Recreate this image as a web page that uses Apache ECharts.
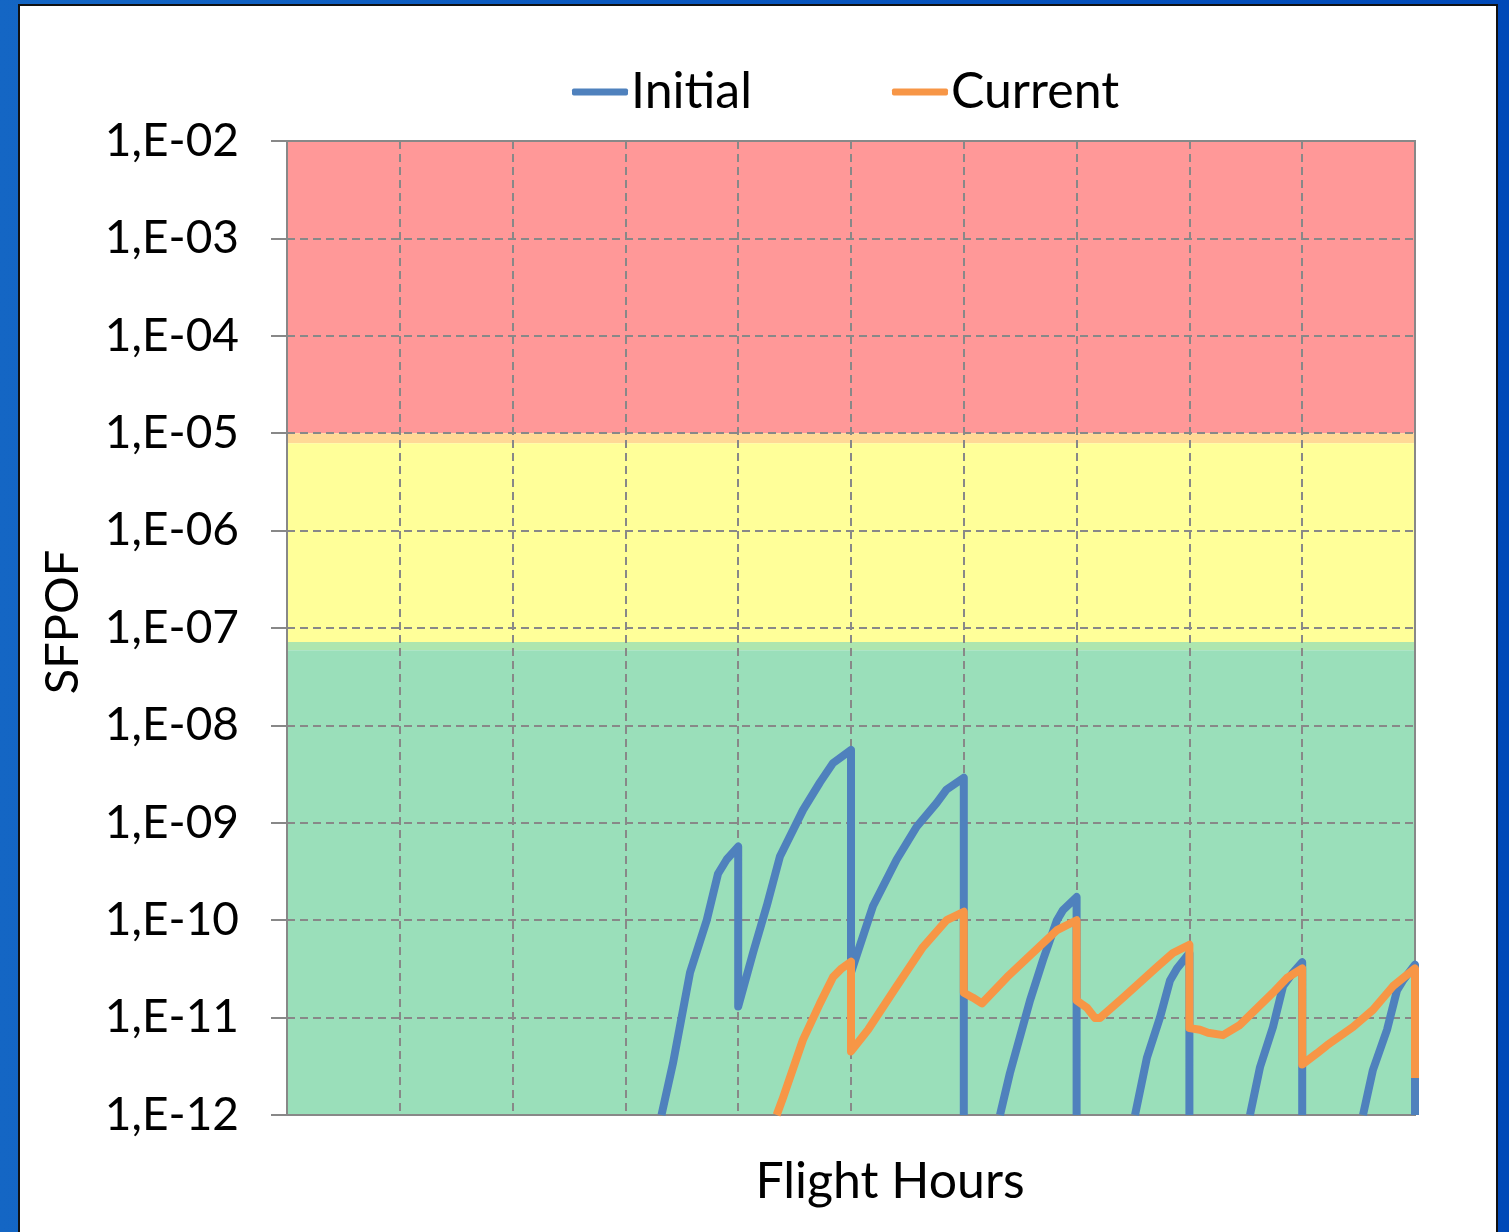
<!DOCTYPE html>
<html>
<head>
<meta charset="utf-8">
<title>SFPOF vs Flight Hours</title>
<script src="https://cdn.jsdelivr.net/npm/echarts@6/dist/echarts.min.js"></script>
<style>
  html, body { margin: 0; padding: 0; width: 1509px; height: 1232px; overflow: hidden; }
  body { background: linear-gradient(90deg, #1466c4 0%, #0a58bf 40%, #0049b8 100%); position: relative; }
  #panel { position: absolute; left: 18px; top: 4px; width: 1476px; height: 1240px; background: #fff; border: 2px solid #111; }
  #chart { position: absolute; left: 0; top: 0; width: 1509px; height: 1232px; }
</style>
</head>
<body>
<div id="panel"></div>
<div id="chart"></div>
<script>
// Flight hours / SFPOF readings for the initial and current assessments
const initialHours = [3320, 3422, 3573, 3721, 3821, 3898, 4000,
  4000, 4131, 4253, 4370, 4574, 4725, 4840, 5000,
  5000, 5195, 5405, 5582, 5760, 5848, 6000, 6000, 6000,
  6321, 6409, 6587, 6702, 6826, 6879, 7000, 7000, 7000,
  7518, 7624, 7739, 7828, 7890, 8000, 8000, 8000,
  8537, 8626, 8741, 8830, 8918, 9000, 9000, 9000,
  9539, 9627, 9752, 9840, 9893, 10000, 10000];
const initialSfpof = [1e-12, 3.4e-12, 2.9e-11, 1.0e-10, 3.0e-10, 4.2e-10, 5.7e-10,
  1.3e-11, 4.6e-11, 1.4e-10, 4.5e-10, 1.35e-9, 2.6e-9, 4.1e-9, 5.6e-9,
  2.9e-11, 1.4e-10, 4.2e-10, 9.1e-10, 1.6e-9, 2.2e-9, 2.9e-9, 1e-12, '-',
  1e-12, 2.7e-12, 1.5e-11, 3.9e-11, 1.0e-10, 1.27e-10, 1.73e-10, 1e-12, '-',
  1e-12, 3.9e-12, 1.0e-11, 2.4e-11, 3.2e-11, 4.6e-11, 1e-12, '-',
  1e-12, 3.1e-12, 8.0e-12, 2.1e-11, 2.9e-11, 3.7e-11, 1e-12, '-',
  1e-12, 2.9e-12, 7.5e-12, 1.9e-11, 2.4e-11, 3.5e-11, 1e-12];

const currentHours = [4341, 4397, 4574, 4725, 4840, 4917, 5000,
  5000, 5151, 5405, 5638, 5848, 6000,
  6000, 6081, 6161, 6383, 6826, 7000,
  7000, 7092, 7163, 7207, 7411, 7713, 7854, 8000,
  8000, 8094, 8165, 8298, 8448, 8741, 8865, 9000,
  9000, 9131, 9220, 9450, 9627, 9805, 10000, 10000];
const currentSfpof = [1e-12, 1.5e-12, 5.9e-12, 1.4e-11, 2.6e-11, 3.2e-11, 3.75e-11,
  4.5e-12, 7.5e-12, 2.1e-11, 5.3e-11, 1.0e-10, 1.22e-10,
  1.8e-11, 1.6e-11, 1.4e-11, 2.6e-11, 7.9e-11, 1.0e-10,
  1.5e-11, 1.26e-11, 9.9e-12, 9.9e-12, 1.6e-11, 3.3e-11, 4.6e-11, 5.6e-11,
  7.8e-12, 7.5e-12, 7.0e-12, 6.6e-12, 8.4e-12, 1.8e-11, 2.55e-11, 3.2e-11,
  3.3e-12, 4.3e-12, 5.2e-12, 8.0e-12, 1.2e-11, 2.1e-11, 3.2e-11, 2.4e-12];

const seriesNames = ['Initial', 'Current'];
const yTickLabels = ['1,E-12', '1,E-11', '1,E-10', '1,E-09', '1,E-08', '1,E-07',
  '1,E-06', '1,E-05', '1,E-04', '1,E-03', '1,E-02'];

// Risk zones (upper bound, lower bound)
const zoneEdges = [[1e-2, 1e-5], [1e-5, 7.9e-6], [7.9e-6, 7.2e-8], [7.2e-8, 5.9e-8], [5.9e-8, 1e-12]];
const zoneColors = ['#ff9898', '#ffd996', '#ffff99', '#ade6ae', '#9adfba'];

const zip = (xs, ys) => xs.map((x, i) => [x, ys[i]]);
const FONT = 'Lato';
const GRID_LINE = { color: '#888', width: 2, type: [8, 5] };

const chart = echarts.init(document.getElementById('chart'), null, { renderer: 'canvas' });
chart.setOption({
  backgroundColor: 'transparent',
  animation: false,
  textStyle: { fontFamily: FONT, color: '#000' },
  legend: {
    data: seriesNames,
    left: 572,
    top: 67,
    padding: 0,
    icon: 'roundRect',
    itemWidth: 56,
    itemHeight: 7,
    itemGap: 140,
    textStyle: { fontFamily: FONT, fontSize: 50, color: '#000', padding: [0, 0, 0, -2] }
  },
  grid: {
    left: 287, top: 141, width: 1128, height: 974,
    show: true, borderColor: '#888', borderWidth: 2, backgroundColor: 'transparent', z: 2
  },
  xAxis: {
    type: 'value', min: 0, max: 10000, interval: 1000, z: 2,
    name: 'Flight Hours', nameLocation: 'middle', nameGap: 42,
    nameTextStyle: { fontFamily: FONT, fontSize: 50, color: '#000', padding: [0, 0, 0, 78] },
    axisLine: { show: true, lineStyle: { color: '#888', width: 2 } },
    axisTick: { show: false },
    axisLabel: { show: false },
    splitLine: { show: true, lineStyle: GRID_LINE }
  },
  yAxis: {
    type: 'log', logBase: 10, min: 1e-12, max: 1e-2, interval: 1, z: 2,
    name: 'SFPOF', nameLocation: 'middle', nameGap: 201,
    nameTextStyle: { fontFamily: FONT, fontSize: 47, color: '#000', padding: [0, 0, 0, 12] },
    axisLine: { show: true, lineStyle: { color: '#888', width: 2 } },
    axisTick: { show: true, length: 16, lineStyle: { color: '#888', width: 2 } },
    axisLabel: {
      margin: 48, fontFamily: FONT, fontSize: 46, color: '#000',
      formatter: v => yTickLabels[Math.round(Math.log10(v)) + 12]
    },
    splitLine: { show: true, lineStyle: GRID_LINE }
  },
  series: [
    {
      name: 'zones', type: 'line', data: [], z: 0, silent: true,
      markArea: {
        silent: true, z: 0,
        data: zoneEdges.map((e, i) => [
          { yAxis: e[0], itemStyle: { color: zoneColors[i], opacity: 1 } },
          { yAxis: e[1] }
        ])
      }
    },
    {
      name: seriesNames[0], type: 'line', z: 3,
      data: zip(initialHours, initialSfpof),
      symbol: 'none', connectNulls: false,
      itemStyle: { color: '#4f81bd' },
      lineStyle: { color: '#4f81bd', width: 8, join: 'round', cap: 'butt' }
    },
    {
      name: seriesNames[1], type: 'line', z: 4,
      data: zip(currentHours, currentSfpof),
      symbol: 'none',
      itemStyle: { color: '#f79646' },
      lineStyle: { color: '#f79646', width: 8, join: 'round', cap: 'butt' }
    }
  ]
});
</script>
</body>
</html>
